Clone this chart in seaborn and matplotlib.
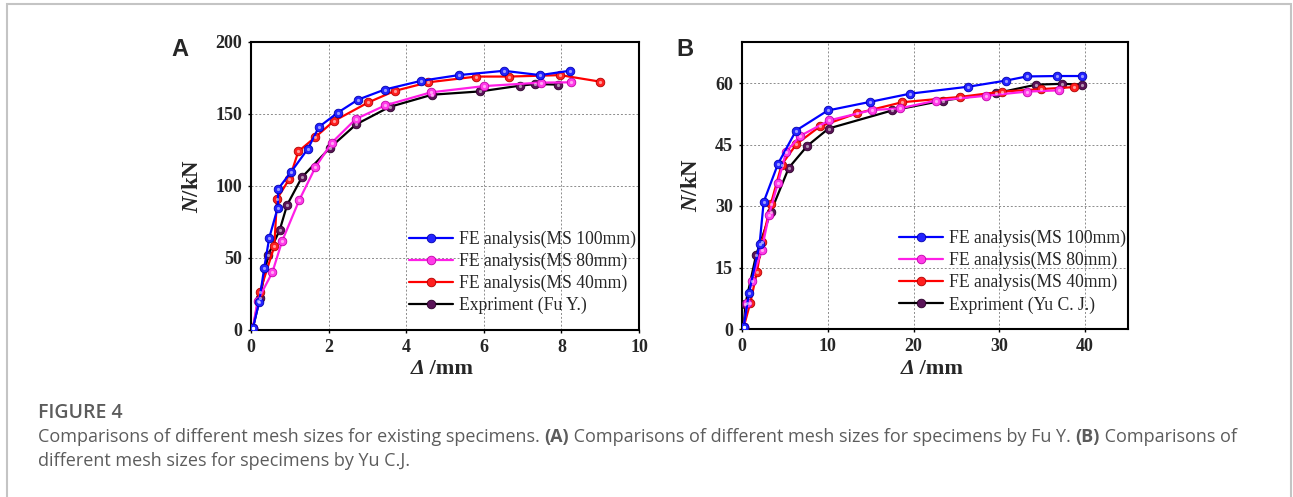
import numpy as np
import pandas as pd
import matplotlib
matplotlib.use("Agg")
import matplotlib.pyplot as plt
import seaborn as sns
from matplotlib.patches import Rectangle

# ---------------- data (panel A, Fu Y.) ----------------
a_ms100_x = [0.05, 0.21, 0.34, 0.47, 0.69, 0.70, 1.04, 1.47, 1.75, 2.24, 2.76, 3.45, 4.38, 5.35, 6.52, 7.45, 8.21]
a_ms100_y = [1.5, 19.5, 43, 64, 85, 98, 110, 126, 141, 151, 160, 167, 173, 177, 180, 177, 180]
a_ms80_x = [0.05, 0.17, 0.55, 0.80, 1.24, 1.66, 2.08, 2.70, 3.46, 4.63, 6.01, 7.48, 8.24]
a_ms80_y = [1.5, 20.4, 40, 61.6, 90, 113, 130, 146.5, 156, 165, 169.4, 171.8, 172]
a_ms40_x = [0.05, 0.23, 0.60, 0.67, 0.99, 1.22, 1.66, 2.13, 3.02, 3.70, 4.57, 5.81, 6.65, 7.97, 8.99]
a_ms40_y = [1.5, 26.6, 58, 91, 105, 124, 134, 145, 158, 166, 172, 176, 176, 177, 172.5]
a_exp_x = [0.05, 0.23, 0.44, 0.74, 0.93, 1.31, 2.03, 2.71, 3.57, 4.67, 5.91, 6.94, 7.33, 7.92]
a_exp_y = [1.5, 22, 52, 69.4, 86.8, 106, 126.4, 142.8, 154.9, 163.4, 165.7, 169.7, 170.8, 170.4]

# ---------------- data (panel B, Yu C. J.) ----------------
b_ms100_x = [0.2, 0.8, 2.05, 2.53, 4.2, 6.3, 10.0, 14.95, 19.6, 26.4, 30.8, 33.2, 36.7, 39.6]
b_ms100_y = [0.5, 8.7, 20.7, 31.0, 40.3, 48.4, 53.3, 55.4, 57.4, 59.1, 60.6, 61.6, 61.7, 61.7]
b_ms80_x = [0.2, 0.62, 1.13, 2.3, 3.15, 4.17, 5.14, 6.78, 10.2, 15.15, 18.4, 22.6, 28.5, 33.2, 36.9]
b_ms80_y = [0.5, 6.4, 11.8, 19.3, 27.9, 35.5, 43.2, 47.1, 50.9, 53.4, 53.8, 55.7, 56.9, 57.9, 58.2]
b_ms40_x = [0.2, 0.97, 1.75, 2.34, 3.35, 4.63, 6.35, 9.07, 13.4, 18.65, 25.4, 30.3, 34.8, 38.7]
b_ms40_y = [0.5, 6.4, 14.0, 21.2, 30.4, 40.1, 45.1, 49.4, 52.6, 55.3, 56.6, 57.9, 58.5, 59.0]
b_exp_x = [0.2, 0.4, 1.64, 3.35, 5.45, 7.63, 10.1, 17.5, 23.4, 29.6, 34.3, 37.3, 39.6]
b_exp_y = [0.5, 6.1, 18.0, 28.5, 39.3, 44.7, 48.9, 53.3, 55.7, 57.5, 59.6, 59.8, 59.6]

labels_a = ["FE analysis(MS 100mm)", "FE analysis(MS 80mm)", "FE analysis(MS 40mm)", "Expriment (Fu Y.)"]
labels_b = ["FE analysis(MS 100mm)", "FE analysis(MS 80mm)", "FE analysis(MS 40mm)", "Expriment (Yu C. J.)"]

xticks_a = [0, 2, 4, 6, 8, 10]
yticks_a = [0, 50, 100, 150, 200]
xticks_b = [0, 10, 20, 30, 40]
yticks_b = [0, 15, 30, 45, 60]

line_colors = ["#0000ff", "#ff1ee6", "#ff0000", "#000000"]
marker_colors = ["#2323ff", "#ff3ce8", "#ff2020", "#5a1458"]
marker_edges = ["#0000b0", "#c000a8", "#b00000", "#2a0028"]

sns.set_theme(style="white")
plt.rcParams["font.family"] = ["Liberation Serif", "DejaVu Serif"]
plt.rcParams["mathtext.fontset"] = "custom"
plt.rcParams["mathtext.it"] = "Liberation Serif:italic:bold"
plt.rcParams["mathtext.bf"] = "Liberation Serif:bold"
plt.rcParams["mathtext.rm"] = "Liberation Serif:bold"

W, H = 1293, 497
fig = plt.figure(figsize=(W / 100, H / 100), dpi=100)
fig.patch.set_facecolor("white")
renderer = fig.canvas.get_renderer()

# border box
fig.add_artist(Rectangle((7 / W, -0.01), (1291 - 7) / W, (H - 4) / H + 0.01,
                         transform=fig.transFigure, fill=False,
                         edgecolor="#c4c4c4", linewidth=1.5))


def xlabel_parts(cx, cy):
    """Draw 'Δ /mm' with an italic Δ, centred at pixel (cx, cy)."""
    t1 = fig.text(0, 0, "Δ", fontsize=16, fontweight="bold", fontstyle="italic",
                  va="center", ha="left")
    t2 = fig.text(0, 0, " /mm", fontsize=16, fontweight="bold",
                  va="center", ha="left")
    w1 = t1.get_window_extent(renderer=renderer).width
    w2 = t2.get_window_extent(renderer=renderer).width
    x0 = cx - (w1 + w2) / 2
    t1.set_position((x0 / W, 1 - cy / H))
    t2.set_position(((x0 + w1) / W, 1 - cy / H))


def panel(rect, series, labels, xlim, ylim, xticks, yticks, letter, letter_x):
    ax = fig.add_axes(rect)
    for i, (xs, ys) in enumerate(series):
        df = pd.DataFrame({"x": xs, "y": ys})
        sns.lineplot(data=df, x="x", y="y", ax=ax, sort=False, estimator=None,
                     color=line_colors[i], linewidth=1.6, marker="o",
                     markersize=6.2, markerfacecolor=marker_colors[i],
                     markeredgecolor=marker_edges[i], markeredgewidth=0.6,
                     label=labels[i], zorder=3 + (3 - i) * 0.1)
        # highlight on the spherical markers
        ax.plot(xs, ys, linestyle="none", marker="o", markersize=2.3,
                markerfacecolor="white", markeredgewidth=0, alpha=0.55,
                zorder=4)
    ax.set_xlim(*xlim)
    ax.set_ylim(*ylim)
    ax.set_xticks(xticks)
    ax.set_yticks(yticks)
    ax.grid(True, color="#8c8c8c", linestyle=(0, (2, 2)), linewidth=0.7)
    ax.set_axisbelow(True)
    for s in ax.spines.values():
        s.set_color("black")
        s.set_linewidth(1.5)
    ax.tick_params(length=2.5, width=1, direction="out", color="black",
                   labelsize=13, pad=4, bottom=True, left=True)
    for t in ax.get_xticklabels() + ax.get_yticklabels():
        t.set_fontweight("bold")
    ax.set_xlabel("")
    ax.set_ylabel(r"$\mathit{N}$/kN", fontsize=16.5, fontweight="bold", labelpad=9)
    ax.legend(loc="upper left", bbox_to_anchor=(0.408, 0.345), frameon=False,
              fontsize=12.7, handlelength=2.45, handletextpad=0.35,
              labelspacing=0.27, borderpad=0, borderaxespad=0)
    fig.text(letter_x / W, 1 - 38 / H, letter, fontsize=17,
             fontweight="bold", family="Liberation Sans", va="top", ha="left")
    # x label centred below the axes
    left_px = rect[0] * W
    width_px = rect[2] * W
    xlabel_parts(left_px + width_px / 2 - 3, 369)
    return ax


panel([251 / W, (H - 330) / H, 388 / W, 288 / H],
      [(a_ms100_x, a_ms100_y), (a_ms80_x, a_ms80_y), (a_ms40_x, a_ms40_y), (a_exp_x, a_exp_y)],
      labels_a, (0, 10), (0, 200), xticks_a, yticks_a, "A", 171)
panel([742 / W, (H - 329) / H, 386 / W, 287 / H],
      [(b_ms100_x, b_ms100_y), (b_ms80_x, b_ms80_y), (b_ms40_x, b_ms40_y), (b_exp_x, b_exp_y)],
      labels_b, (0, 45), (0, 70), xticks_b, yticks_b, "B", 676)

# caption
cap_family = ["Open Sans", "DejaVu Sans"]
cap_color = "#5c5c5c"
fig.text(38 / W, 1 - 413 / H, "FIGURE 4", fontsize=14, color=cap_color,
         family=cap_family, fontweight="semibold", va="center", ha="left")
cap1_parts = [("Comparisons of different mesh sizes for existing specimens. ", "normal"),
              ("(A)", "bold"),
              (" Comparisons of different mesh sizes for specimens by Fu Y. ", "normal"),
              ("(B)", "bold"),
              (" Comparisons of", "normal")]
x = 38
for txt, wgt in cap1_parts:
    t = fig.text(x / W, 1 - 437 / H, txt, fontsize=13.0, color=cap_color,
                 family=cap_family, fontweight=wgt, va="center", ha="left")
    bb = t.get_window_extent(renderer=renderer)
    x += bb.width
fig.text(38 / W, 1 - 461 / H, "different mesh sizes for specimens by Yu C.J.", fontsize=13.0,
         color=cap_color, family=cap_family, va="center", ha="left")

fig.savefig("out.png", dpi=100, facecolor="white")
